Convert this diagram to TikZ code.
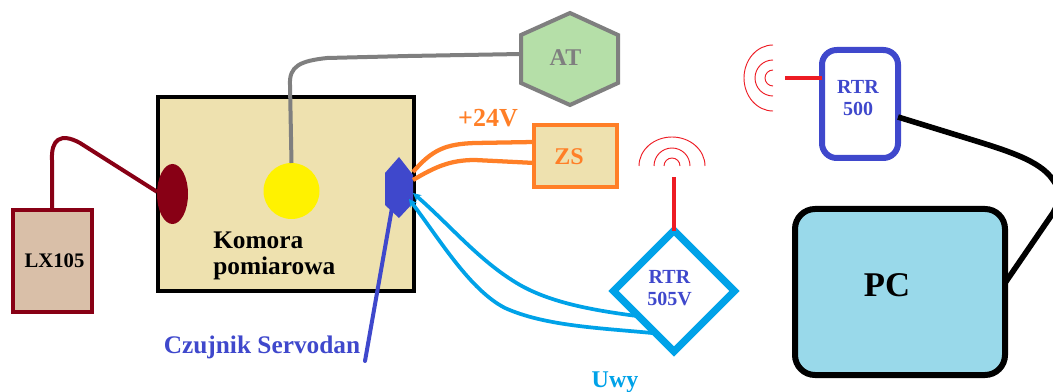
\documentclass[tikz,border=0pt]{standalone}
\usepackage{fontspec}
\setmainfont{Liberation Serif}
\usetikzlibrary{shapes.geometric,arrows.meta}
\definecolor{sand}{HTML}{EEE1AF}
\definecolor{maroon}{HTML}{880015}
\definecolor{tan}{HTML}{D9BFA8}
\definecolor{indigoB}{HTML}{3F48CC}
\definecolor{orangeB}{HTML}{FF7F27}
\definecolor{cyanB}{HTML}{00A2E8}
\definecolor{redB}{HTML}{ED1C24}
\definecolor{grayB}{HTML}{7F7F7F}
\definecolor{greenB}{HTML}{B5DFA8}
\definecolor{sky}{HTML}{99D9EA}
\definecolor{yellowB}{HTML}{FFF200}
\tikzset{
 x=0.75pt,y=-0.75pt,
 lbl/.style={font=\bfseries\fontsize{#1}{#1}\selectfont,inner sep=0pt,align=center},
 lbl/.default=15,
 wave/.style={redB,line width=0.7pt},
 ant/.style={redB,line width=3pt},
 mwire/.style={maroon,line width=3pt},
 gwire/.style={grayB,line width=3pt},
 owire/.style={orangeB,line width=3.2pt},
 cwire/.style={cyanB,line width=2.8pt},
 bwire/.style={line width=4.2pt},
 boxn/.style={draw,rectangle,inner sep=0pt,outer sep=0pt,anchor=north west},
}
\begin{document}
\begin{tikzpicture}
\useasboundingbox (0,0) rectangle (1053,392);
% chamber
\node[boxn,fill=sand,line width=3pt,minimum width=256*0.75pt,minimum height=194*0.75pt] (chamber) at (158,97) {};
\node[lbl=19,align=left,anchor=north west] (chamberT) at (213,232) {Komora\\[0pt]pomiarowa};
% LX105
\node[boxn,fill=tan,draw=maroon,line width=3pt,minimum width=79*0.75pt,minimum height=102*0.75pt] (lx) at (13,210) {};
\node[lbl=15.5] (lxT) at (54.5,261) {LX105};
\node[ellipse,fill=maroon,inner sep=0pt,outer sep=0pt,minimum width=31*0.75pt,minimum height=60*0.75pt] (probe) at (172.5,194) {};
\node[circle,fill=yellowB,inner sep=0pt,outer sep=0pt,minimum size=56*0.75pt] (lamp) at (291.5,191) {};
% sensor
\coordinate (s1) at (399,157);\coordinate (s2) at (413,175);\coordinate (s3) at (413,203);
\coordinate (s4) at (399,218);\coordinate (s5) at (385,205);\coordinate (s6) at (385,173);
\fill[indigoB] (s1)--(s2)--(s3)--(s4)--(s5)--(s6)--cycle;
% AT
\coordinate (a1) at (570,13);\coordinate (a2) at (618,35);\coordinate (a3) at (618,83);
\coordinate (a4) at (570,105);\coordinate (a5) at (521,83);\coordinate (a6) at (521,35);
\draw[grayB,fill=greenB,line width=3pt] (a1)--(a2)--(a3)--(a4)--(a5)--(a6)--cycle;
\node[lbl=18,text=grayB] (atT) at (565.5,58) {AT};
\coordinate (atin) at (521,54);
% ZS
\node[boxn,fill=sand,draw=orangeB,line width=3pt,minimum width=83*0.75pt,minimum height=62*0.75pt] (zs) at (533.5,125.5) {};
\node[lbl=18,text=orangeB] (zsT) at (569,157) {ZS};
\node[lbl=19.5,text=orangeB] (plus) at (488,118) {+24V};
% RTR 505V
\node[diamond,draw=cyanB,fill=white,line width=5.5pt,inner sep=0pt,outer sep=0pt,minimum width=121*0.75pt,minimum height=121*0.75pt] (rtrv) at (674,291) {};
\node[lbl=15,text=indigoB] (rtrvT) at (669.5,288) {RTR\\[2pt]505V};
\node[lbl=18,text=cyanB] (uwy) at (615,382) {Uwy};
% RTR 500
\node[boxn,draw=indigoB,line width=4.5pt,rounded corners=11pt,minimum width=76*0.75pt,minimum height=108*0.75pt] (rtr) at (822,50) {};
\node[lbl=15,text=indigoB] (rtrT) at (858,98) {RTR\\[2pt]500};
% PC
\node[boxn,fill=sky,line width=4.5pt,rounded corners=15pt,minimum width=210*0.75pt,minimum height=166*0.75pt] (pc) at (795,209) {};
\node[lbl=26] (pcT) at (887,285) {PC};
% Czujnik
\node[lbl=19,text=indigoB] (cz) at (262,347) {Czujnik Servodan};
\coordinate (czend) at (365,361);
% wires
\draw[mwire] (lx.north -| 52,0) -- (52,160) .. controls (51,140) and (60,132) .. (80,143) -- (probe.172);
\draw[gwire] (lamp.north) -- (290,85) .. controls (289,66) and (300,61) .. (327,58) -- (408,56) -- (atin);
\draw[owire] (413,172) .. controls (432,150) and (445,144) .. (475,143) -- (zs.west |- 0,142);
\draw[owire] (413,180) .. controls (435,167) and (450,160) .. (475,160) -- (535,163);
\draw[cwire,<-,>={Stealth[length=6pt,width=6pt]}] (413,193) .. controls (450,225) and (480,262) .. (520,285) .. controls (550,302) and (590,310) .. (637,316);
\draw[cwire,<-,>={Stealth[length=6pt,width=6pt]}] (409,199) .. controls (440,240) and (470,290) .. (505,308) .. controls (545,326) and (600,328) .. (652,333);
\draw[indigoB,line width=3pt,line cap=round] (s5) ++(7,3) -- (czend);
\draw[ant] (rtrv.north) -- (rtrv.north |- 0,177);
\draw[ant] (rtr.west |- 0,78) -- (785,78);
\draw[bwire] (rtr.east |- 0,117) -- (963,137) .. controls (1005,150) and (1040,160) .. (1053,180) .. controls (1062,192) and (1060,200) .. (1053,213) -- (pc.east |- 0,283);
% signal arcs
\foreach \r/\s in {8/8,18/18,33/29}{
 \draw[wave] (672-\r,166) arc[start angle=180,end angle=0,x radius=\r*0.75pt,y radius=\s*0.75pt];
 \draw[wave] (773,78-\r) arc[start angle=90,end angle=270,x radius=\s*0.75pt,y radius=\r*0.75pt];
}
\end{tikzpicture}
\end{document}
